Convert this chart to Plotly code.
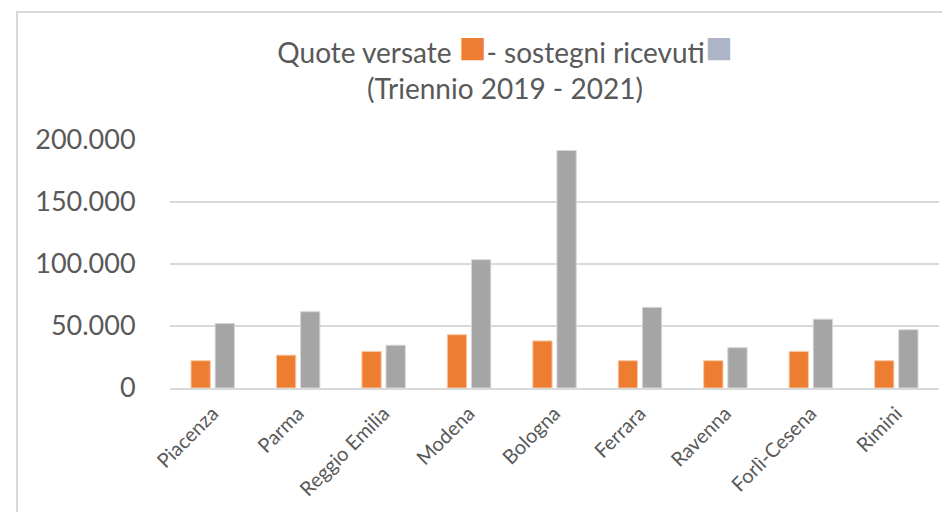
import plotly.graph_objects as go

province = ["Piacenza", "Parma", "Reggio Emilia", "Modena", "Bologna",
            "Ferrara", "Ravenna", "Forlì-Cesena", "Rimini"]
quote_versate = [22000, 26500, 29500, 43000, 38000, 22000, 22000, 29500, 22000]
sostegni_ricevuti = [52000, 61500, 34500, 103500, 191500, 65000, 32500, 55500, 47000]
y_ticks = [0, 50000, 100000, 150000, 200000]
y_tick_labels = ["0", "50.000", "100.000", "150.000", "200.000"]

ORANGE = "#ED7D31"
GREY = "#A5A5A5"
TEXT = "#595959"

# page body adds an 8px offset, so work in figure coordinates shifted by 8
OFF = 8
W, H = 950, 512
L, R, T, B = 170 - OFF, 19, 140 - OFF, 132
pw, ph = W - L - R, H - T - B

fig = go.Figure()
fig.add_trace(go.Bar(x=province, y=quote_versate, name="Quote versate",
                     marker=dict(color=ORANGE, line=dict(color="#F8C9A8", width=1))))
fig.add_trace(go.Bar(x=province, y=sostegni_ricevuti, name="Sostegni ricevuti",
                     marker=dict(color=GREY, line=dict(color="#D6D6D6", width=1))))

sq = "<span style='color:%s;font-size:46px'>■</span>"
title = ("Quote versate " + sq % ORANGE + "- sostegni ricevuti" + sq % "#ACB4C6"
         + "<br>(Triennio 2019 - 2021)")


def px_x(v):
    return (v - OFF - L) / pw


def px_y(v):
    return (H - B - (v - OFF)) / ph


# outer chart frame (left and top edges visible)
fig.add_shape(type="rect", xref="paper", yref="paper",
              x0=px_x(17), x1=px_x(990), y0=px_y(560), y1=px_y(12),
              line=dict(color="#D9D9D9", width=2), layer="below")

fig.update_layout(
    width=W, height=H,
    margin=dict(l=L, r=R, t=T, b=B),
    paper_bgcolor="white", plot_bgcolor="white",
    font=dict(family="Lato, Open Sans, sans-serif", color=TEXT),
    title=dict(text=title, x=px_x(505), xanchor="center", xref="paper",
               y=1 - (63 - OFF) / H, yanchor="middle",
               font=dict(size=28, color=TEXT)),
    showlegend=False,
    barmode="group", bargap=0.435, bargroupgap=0.2,
    xaxis=dict(tickangle=-45, tickfont=dict(size=20, color=TEXT),
               showline=True, linecolor="#D9D9D9", linewidth=2,
               ticks="outside", ticklen=4, tickcolor="rgba(0,0,0,0)",
               showgrid=False),
    yaxis=dict(range=[0, 200000], tickvals=y_ticks, ticktext=y_tick_labels,
               tickfont=dict(size=27, color=TEXT), gridcolor="#D9D9D9",
               gridwidth=2, zeroline=False, showline=False,
               ticks="outside", ticklen=28, tickcolor="rgba(0,0,0,0)"),
)

fig.write_html("out.html")
